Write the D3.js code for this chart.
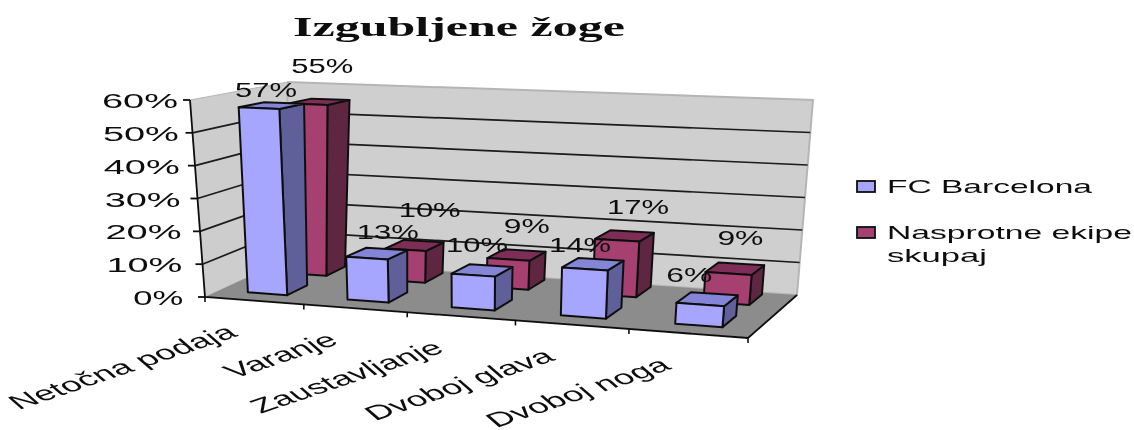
<!DOCTYPE html>
<html>
<head>
<meta charset="utf-8">
<script src="https://cdn.jsdelivr.net/npm/d3@7/dist/d3.min.js"></script>
<style>
  html, body { margin: 0; padding: 0; background: #fff; }
  text { font-family: "Liberation Sans", Arial, sans-serif; fill: #111; }
</style>
</head>
<body>
<div id="chart"></div>
<script>
// chart data
const categories = ["Netočna podaja", "Varanje", "Zaustavljanje", "Dvoboj glava", "Dvoboj noga"];
const seriesNames = ["FC Barcelona", "Nasprotne ekipe skupaj"];
const barcelonaValues = [57, 13, 10, 14, 6];
const opponentValues = [55, 10, 9, 17, 9];
const valueTicks = [0, 10, 20, 30, 40, 50, 60];

const width = 1134;
const height = 430;

// colours: front, side, top
const palette = [
  { front: "#a6a6ff", side: "#5f5f99", top: "#8585d8" },
  { front: "#a63f70", side: "#5f2642", top: "#7e2f56" },
];

// screen corners of the 3d box, bottom and top plane
const floorQuad = [[205, 297], [748, 338], [797, 295], [283, 261]];
const roofQuad = [[190, 100], [767, 123], [813, 100], [288, 82]];

// hand placed label nudges, the source chart does not put them evenly
const barcelonaLabelShift = [[-18, 2], [1, -2], [-14, -6], [-21, 1], [-25, -4]];
const opponentLabelShift = [[-8, -2], [6, 0], [2, 7], [6, 6], [-1, 5]];

// unit square -> quad, perspective
function quadMapper(q) {
  const [p0, p1, p2, p3] = q;
  const dx1 = p1[0] - p2[0], dx2 = p3[0] - p2[0], sx = p0[0] - p1[0] + p2[0] - p3[0];
  const dy1 = p1[1] - p2[1], dy2 = p3[1] - p2[1], sy = p0[1] - p1[1] + p2[1] - p3[1];
  const den = dx1 * dy2 - dx2 * dy1;
  const g = (sx * dy2 - dx2 * sy) / den;
  const h = (dx1 * sy - sx * dy1) / den;
  const a = p1[0] - p0[0] + g * p1[0], b = p3[0] - p0[0] + h * p3[0];
  const d = p1[1] - p0[1] + g * p1[1], e = p3[1] - p0[1] + h * p3[1];
  return (u, v) => {
    const w = g * u + h * v + 1;
    return [(a * u + b * v + p0[0]) / w, (d * u + e * v + p0[1]) / w];
  };
}

const floorAt = quadMapper(floorQuad);
const roofAt = quadMapper(roofQuad);

const xScale = d3.scaleBand().domain(categories).range([0, 1]).paddingInner(0.6).paddingOuter(0.29);
const xStep = d3.scaleLinear().domain([0, categories.length]).range([0, 1]);
const zScale = d3.scaleBand().domain(seriesNames).range([0.18, 0.96]).paddingInner(0.5);
const yScale = d3.scaleLinear().domain([0, 60]).range([0, 1]);

function project(u, value, v) {
  const t = yScale(value);
  const a = floorAt(u, v), b = roofAt(u, v);
  return [a[0] + (b[0] - a[0]) * t, a[1] + (b[1] - a[1]) * t];
}

const svg = d3.select("#chart").append("svg").attr("width", width).attr("height", height);
const defs = svg.append("defs");
defs.append("filter").attr("id", "soft").append("feGaussianBlur").attr("stdDeviation", 0.55);

const root = svg.append("g").attr("filter", "url(#soft)");
const line = d3.line();

// walls and floor
function drawWalls(g) {
  g.append("path")
    .attr("d", line([project(0, 0, 0), project(0, 60, 0), project(0, 60, 1), project(0, 0, 1)]) + "Z")
    .attr("fill", "#cdcdcd").attr("stroke", "#b5b5b5");
  g.append("path")
    .attr("d", line([project(0, 0, 1), project(0, 60, 1), project(1, 60, 1), project(1, 0, 1)]) + "Z")
    .attr("fill", "#cfcfcf").attr("stroke", "#b5b5b5").attr("stroke-width", 2);
  g.append("path")
    .attr("d", line([project(0, 0, 0), project(1, 0, 0), project(1, 0, 1), project(0, 0, 1)]) + "Z")
    .attr("fill", "#8c8c8c").attr("stroke", "none");
  g.selectAll("path.grid")
    .data(valueTicks.filter((d) => d > 0 && d < 60))
    .enter()
    .append("path")
    .attr("class", "grid")
    .attr("d", (d) => line([project(0, d, 0), project(0, d, 1), project(1, d, 1)]))
    .attr("fill", "none")
    .attr("stroke", "#1a1a1a")
    .attr("stroke-width", 1.7);
}

// axes
function drawAxes(g) {
  g.append("path")
    .attr("d", line([project(0, 60, 0), project(0, 0, 0), project(1, 0, 0), project(1, 0, 1)]))
    .attr("fill", "none")
    .attr("stroke", "#111")
    .attr("stroke-width", 1.8);

  g.selectAll("path.ytick")
    .data(valueTicks)
    .enter()
    .append("path")
    .attr("class", "ytick")
    .attr("d", (d) => {
      const p = project(0, d, 0);
      return line([[p[0] - 7, p[1]], p]);
    })
    .attr("stroke", "#111")
    .attr("stroke-width", 1.8);

  g.selectAll("text.ylabel")
    .data(valueTicks)
    .enter()
    .append("text")
    .attr("class", "ylabel")
    .attr("transform", (d) => {
      const p = project(0, d, 0);
      const offset = 12 + 0.65 * (p[0] - project(0, 60, 0)[0]);
      return `translate(${p[0] - offset},${p[1] + 8})`;
    })
    .attr("text-anchor", "end")
    .attr("font-size", 20)
    .attr("textLength", (d) => (d === 0 ? 50 : 76))
    .attr("lengthAdjust", "spacingAndGlyphs")
    .text((d) => `${d}%`);

  g.selectAll("path.xtick")
    .data(d3.range(categories.length + 1))
    .enter()
    .append("path")
    .attr("class", "xtick")
    .attr("d", (i) => {
      const p = project(xStep(i), 0, 0);
      return line([p, [p[0], p[1] + 5]]);
    })
    .attr("stroke", "#111")
    .attr("stroke-width", 1.6);

  // stretched and slanted like the reference bitmap
  g.selectAll("text.xlabel")
    .data(categories)
    .enter()
    .append("text")
    .attr("class", "xlabel")
    .attr("transform", (d, i) => {
      const p = project(xStep(i + 0.5), 0, 0);
      return `translate(${p[0] - 15},${p[1] + 35}) scale(1.85,1) rotate(-32)`;
    })
    .attr("text-anchor", "end")
    .attr("font-size", 20)
    .text((d) => d);
}

// one column as three faces
function drawBars(g, values, s) {
  const name = seriesNames[s];
  const z0 = zScale(name);
  const z1 = z0 + zScale.bandwidth();
  const colors = palette[s];
  const bars = g.selectAll(`g.bar${s}`)
    .data(values)
    .enter()
    .append("g")
    .attr("class", `bar${s}`)
    .attr("stroke", "#111")
    .attr("stroke-width", 2)
    .attr("stroke-linejoin", "round");

  const x0 = (i) => xScale(categories[i]);
  const x1 = (i) => xScale(categories[i]) + xScale.bandwidth();

  bars.append("path")
    .attr("fill", colors.side)
    .attr("d", (d, i) => line([project(x1(i), 0, z0), project(x1(i), d, z0), project(x1(i), d, z1), project(x1(i), 0, z1)]) + "Z");
  bars.append("path")
    .attr("fill", colors.top)
    .attr("d", (d, i) => line([project(x0(i), d, z0), project(x1(i), d, z0), project(x1(i), d, z1), project(x0(i), d, z1)]) + "Z");
  bars.append("path")
    .attr("fill", colors.front)
    .attr("d", (d, i) => line([project(x0(i), 0, z0), project(x0(i), d, z0), project(x1(i), d, z0), project(x1(i), 0, z0)]) + "Z");
}

// value labels sit above the column top
function drawValueLabels(g, values, s, lift, shifts) {
  const name = seriesNames[s];
  const z = zScale(name) + zScale.bandwidth();
  g.selectAll(`text.val${s}`)
    .data(values)
    .enter()
    .append("text")
    .attr("class", `val${s}`)
    .attr("transform", (d, i) => {
      const p = project(xScale(categories[i]) + xScale.bandwidth() / 2, d, z);
      return `translate(${p[0] + shifts[i][0]},${p[1] - lift + shifts[i][1]})`;
    })
    .attr("text-anchor", "middle")
    .attr("font-size", 20)
    .attr("textLength", (d) => (d < 10 ? 46 : 62))
    .attr("lengthAdjust", "spacingAndGlyphs")
    .text((d) => `${d}%`);
}

function drawLegend(g) {
  const rows = [
    { lines: ["FC Barcelona"], y: 186, len: [205], color: palette[0].front },
    { lines: ["Nasprotne ekipe", "skupaj"], y: 232, len: [245, 100], color: palette[1].front },
  ];
  rows.forEach((row) => {
    g.append("rect")
      .attr("x", 857).attr("y", row.y - 5)
      .attr("width", 18).attr("height", 11)
      .attr("fill", row.color).attr("stroke", "#111").attr("stroke-width", 1.8);
    row.lines.forEach((t, i) => {
      g.append("text")
        .attr("x", 887).attr("y", row.y + 7 + i * 23)
        .attr("font-size", 19)
        .attr("textLength", row.len[i])
        .attr("lengthAdjust", "spacingAndGlyphs")
        .text(t);
    });
  });
}

drawWalls(root);
drawBars(root, opponentValues, 1);
drawBars(root, barcelonaValues, 0);
drawAxes(root);
drawValueLabels(root, opponentValues, 1, 24, opponentLabelShift);
drawValueLabels(root, barcelonaValues, 0, 8, barcelonaLabelShift);
drawLegend(root);

root.append("text")
  .attr("x", 293).attr("y", 36)
  .attr("font-size", 28)
  .attr("font-weight", "bold")
  .style("font-family", '"Liberation Serif", serif')
  .attr("textLength", 332)
  .attr("lengthAdjust", "spacingAndGlyphs")
  .text("Izgubljene žoge");
</script>
</body>
</html>
